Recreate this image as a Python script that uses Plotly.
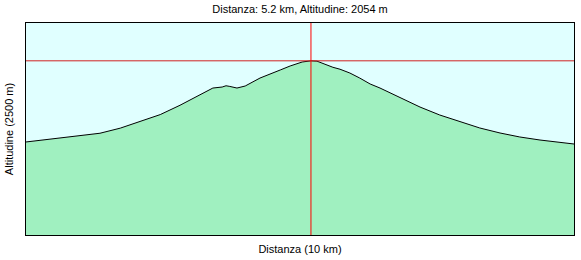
import plotly.graph_objects as go

dist_km = [0.0, 0.75, 1.35, 1.72, 2.08, 2.45, 2.81, 3.18, 3.41, 3.58, 3.65, 3.72, 3.85, 4.00,
           4.27, 4.64, 4.82, 5.04, 5.2, 5.31, 5.40, 5.60, 5.73, 5.91, 6.09, 6.28, 6.46, 6.82,
           7.19, 7.55, 7.92, 8.28, 8.65, 9.01, 9.38, 9.74, 10.0]
alt_m = [1097, 1150, 1200, 1260, 1335, 1420, 1530, 1651, 1733, 1745, 1760, 1752, 1733, 1757,
         1851, 1946, 1993, 2040, 2054, 2050, 2025, 1978, 1955, 1910, 1851, 1781, 1733, 1627,
         1509, 1415, 1333, 1262, 1203, 1156, 1120, 1097, 1073]
cursor_km = 5.2
cursor_alt = 2054
x_max_km = 10
y_max_m = 2500

font_family = "Liberation Sans Narrow, Arial Narrow, Liberation Sans, Arial, sans-serif"

fig = go.Figure()
fig.add_trace(go.Scatter(
    x=dist_km, y=alt_m, mode="lines", fill="tozeroy",
    line=dict(color="black", width=1), fillcolor="#a0f0c0", hoverinfo="skip",
))
fig.add_shape(type="line", xref="x", yref="y", x0=0, x1=x_max_km, y0=cursor_alt, y1=cursor_alt,
              line=dict(color="#d02020", width=1))
fig.add_shape(type="line", xref="x", yref="y", x0=cursor_km, x1=cursor_km, y0=0, y1=y_max_m,
              line=dict(color="#ff0000", width=1))

fig.update_layout(
    width=581, height=260,
    margin=dict(l=26, r=7, t=23, b=25),
    paper_bgcolor="white", plot_bgcolor="#e0ffff",
    showlegend=False,
    font=dict(family=font_family, size=11, color="black"),
    title=dict(text=f"Distanza: {cursor_km} km, Altitudine: {cursor_alt} m",
               xref="paper", x=0.5, xanchor="center", y=1 - 9/260, yanchor="middle",
               font=dict(family=font_family, size=11, color="black")),
)
fig.update_xaxes(range=[0, x_max_km], showgrid=False, zeroline=False, showticklabels=False,
                 ticks="", showline=True, mirror=True, linecolor="black", linewidth=1,
                 automargin=False,
                 title=dict(text=f"Distanza ({x_max_km} km)", standoff=10,
                            font=dict(family=font_family, size=11)))
fig.update_yaxes(range=[0, y_max_m], showgrid=False, zeroline=False, showticklabels=False,
                 ticks="", showline=True, mirror=True, linecolor="black", linewidth=1,
                 automargin=False,
                 title=dict(text=f"Altitudine ({y_max_m} m)", standoff=9,
                            font=dict(family=font_family, size=11)))

fig.write_html("out.html")
